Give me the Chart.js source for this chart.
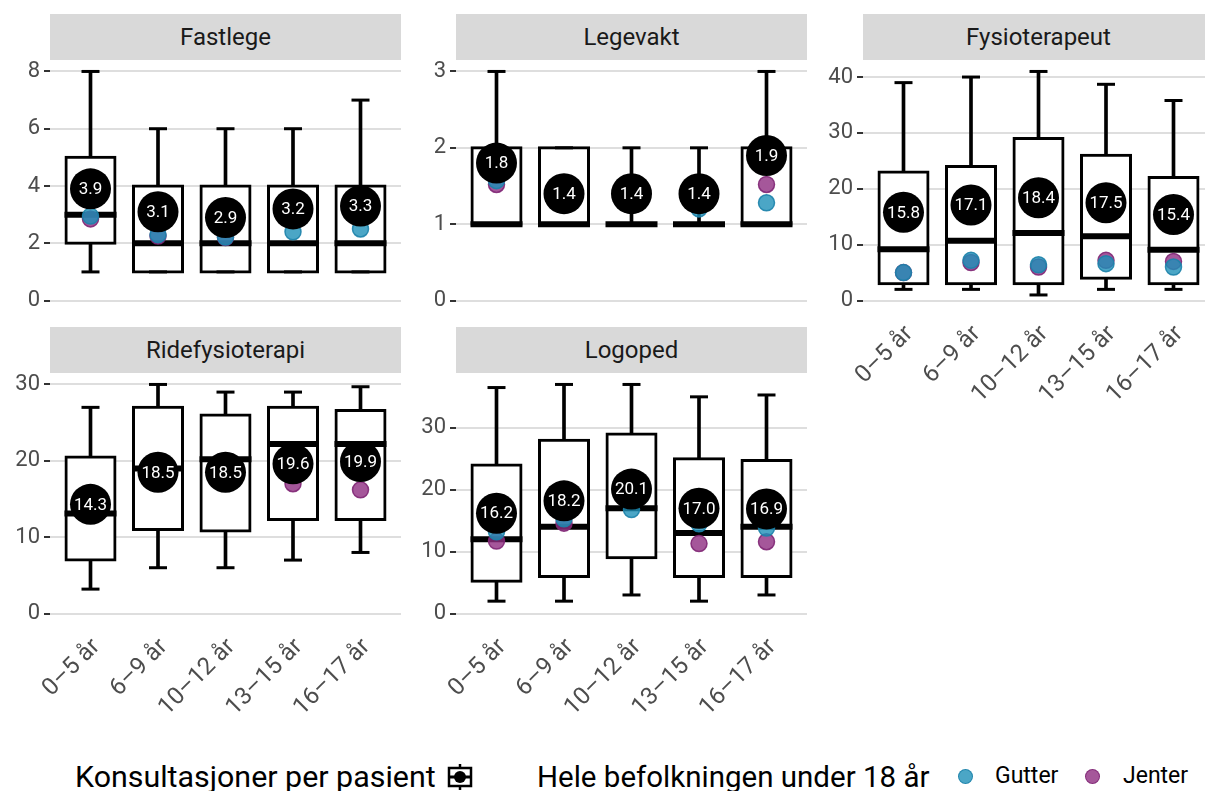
<!DOCTYPE html>
<html>
<head>
<meta charset="utf-8">
<script src="https://cdn.jsdelivr.net/npm/chart.js@4.4.1/dist/chart.umd.min.js"></script>
<style>
    body { margin: 0; width: 1205px; height: 791px; overflow: hidden; background: #fff; font-family: Roboto, sans-serif; position: relative; }
    .strip { position: absolute; width: 351px; height: 46px; line-height: 46px; background: #d9d9d9; color: #1a1a1a; font-size: 24px; text-align: center; }
    canvas { position: absolute; }
    .legend-text { position: absolute; white-space: nowrap; color: #000; }
    .big { font-size: 29.5px; line-height: 30px; top: 762px; }
    .small { font-size: 23px; line-height: 24px; top: 764px; }
    .dot { position: absolute; width: 13px; height: 13px; border-radius: 50%; top: 769px; }
</style>
</head>
<body>

<div class="legend-text big" style="left:75px;font-size:30.4px">Konsultasjoner per pasient</div>
<svg style="position:absolute;left:446px;top:764px" width="28" height="26" viewBox="0 0 28 26">
    <line x1="14" y1="0" x2="14" y2="26" stroke="#000" stroke-width="2.5"/>
    <rect x="3" y="4" width="22" height="18" fill="#fff" stroke="#000" stroke-width="2.5"/>
    <line x1="3" y1="13" x2="25" y2="13" stroke="#000" stroke-width="3"/>
    <circle cx="14" cy="13" r="6" fill="#000"/>
</svg>
<div class="legend-text big" style="left:537px">Hele befolkningen under 18 år</div>
<div class="dot" style="left:958px;background:rgba(30,144,184,0.8);border:1.5px solid rgba(28,130,170,0.9)"></div>
<div class="legend-text small" style="left:995px">Gutter</div>
<div class="dot" style="left:1085px;background:rgba(142,45,129,0.8);border:1.5px solid rgba(128,38,116,0.9)"></div>
<div class="legend-text small" style="left:1123px">Jenter</div>

<script>
const ageGroups = ['0–5 år', '6–9 år', '10–12 år', '13–15 år', '16–17 år'];

// Fastlege
const fastlegeLow = [1, 1, 1, 1, 1];
const fastlegeQ1 = [2, 1, 1, 1, 1];
const fastlegeMedian = [3, 2, 2, 2, 2];
const fastlegeQ3 = [5, 4, 4, 4, 4];
const fastlegeHigh = [8, 6, 6, 6, 7];
const fastlegeMean = [3.9, 3.1, 2.9, 3.2, 3.3];
const fastlegeGutter = [2.95, 2.3, 2.22, 2.4, 2.5];
const fastlegeJenter = [2.85, 2.25, 2.2, 2.9, 3.1];
const fastlegeTicks = [0, 2, 4, 6, 8];

// Legevakt
const legevaktLow = [1, 1, 1, 1, 1];
const legevaktQ1 = [1, 1, 1, 1, 1];
const legevaktMedian = [1, 1, 1, 1, 1];
const legevaktQ3 = [2, 2, 1, 1, 2];
const legevaktHigh = [3, 2, 2, 2, 3];
const legevaktMean = [1.8, 1.4, 1.4, 1.4, 1.9];
const legevaktGutter = [1.57, 1.3, 1.25, 1.2, 1.28];
const legevaktJenter = [1.52, 1.35, 1.3, 1.3, 1.52];
const legevaktTicks = [0, 1, 2, 3];

// Fysioterapeut
const fysioLow = [2, 2, 1, 2, 2];
const fysioQ1 = [3, 3, 3, 4, 3];
const fysioMedian = [9.2, 10.7, 12.1, 11.5, 9.1];
const fysioQ3 = [23, 24, 29, 26, 22];
const fysioHigh = [39, 40, 41, 38.7, 35.8];
const fysioMean = [15.8, 17.1, 18.4, 17.5, 15.4];
const fysioGutter = [5.0, 7.2, 6.4, 6.6, 6.0];
const fysioJenter = [5.0, 6.8, 6.0, 7.2, 7.0];
const fysioTicks = [0, 10, 20, 30, 40];

// Ridefysioterapi
const rideLow = [3.2, 6, 6, 7, 8];
const rideQ1 = [7, 11, 10.8, 12.3, 12.3];
const rideMedian = [13.1, 19, 20.2, 22.2, 22.2];
const rideQ3 = [20.5, 27, 26, 27, 26.6];
const rideHigh = [27, 30, 29, 29, 29.7];
const rideMean = [14.3, 18.5, 18.5, 19.6, 19.9];
const rideGutter = [14.0, 18.2, 18.0, 18.6, 18.8];
const rideJenter = [14.6, 18.8, 18.8, 17.0, 16.2];
const rideTicks = [0, 10, 20, 30];

// Logoped
const logopedLow = [2, 2, 3, 2, 3];
const logopedQ1 = [5.2, 6, 9, 6, 6];
const logopedMedian = [12, 14, 17, 13, 14];
const logopedQ3 = [24, 28, 29, 25, 24.7];
const logopedHigh = [36.5, 37, 37, 35, 35.3];
const logopedMean = [16.2, 18.2, 20.1, 17.0, 16.9];
const logopedGutter = [13.2, 15.3, 16.8, 14.5, 13.8];
const logopedJenter = [11.7, 14.6, 18.5, 11.3, 11.6];
const logopedTicks = [0, 10, 20, 30];

const PLOT_W = 351, PLOT_H = 252, AXIS_W = 50, XLAB_H = 100;

const panels = [
    { title: 'Fastlege', left: 50, top: 60, showX: false, low: fastlegeLow, q1: fastlegeQ1, median: fastlegeMedian, q3: fastlegeQ3, high: fastlegeHigh, mean: fastlegeMean, gutter: fastlegeGutter, jenter: fastlegeJenter, ticks: fastlegeTicks },
    { title: 'Legevakt', left: 456, top: 60, showX: false, low: legevaktLow, q1: legevaktQ1, median: legevaktMedian, q3: legevaktQ3, high: legevaktHigh, mean: legevaktMean, gutter: legevaktGutter, jenter: legevaktJenter, ticks: legevaktTicks },
    { title: 'Fysioterapeut', left: 863, top: 60, showX: true, low: fysioLow, q1: fysioQ1, median: fysioMedian, q3: fysioQ3, high: fysioHigh, mean: fysioMean, gutter: fysioGutter, jenter: fysioJenter, ticks: fysioTicks },
    { title: 'Ridefysioterapi', left: 50, top: 373, showX: true, low: rideLow, q1: rideQ1, median: rideMedian, q3: rideQ3, high: rideHigh, mean: rideMean, gutter: rideGutter, jenter: rideJenter, ticks: rideTicks },
    { title: 'Logoped', left: 456, top: 373, showX: true, low: logopedLow, q1: logopedQ1, median: logopedMedian, q3: logopedQ3, high: logopedHigh, mean: logopedMean, gutter: logopedGutter, jenter: logopedJenter, ticks: logopedTicks }
];

// white value text on top of the mean circles
const meanLabels = {
    id: 'meanLabels',
    afterDatasetsDraw(chart) {
        const idx = chart.data.datasets.findIndex(d => d.label === 'mean');
        const meta = chart.getDatasetMeta(idx);
        const ctx = chart.ctx;
        ctx.save();
        ctx.fillStyle = '#fff';
        ctx.font = '17px Roboto';
        ctx.textAlign = 'center';
        ctx.textBaseline = 'middle';
        meta.data.forEach((pt, i) => {
            ctx.fillText(chart.data.datasets[idx].data[i].y.toFixed(1), pt.x, pt.y + 1);
        });
        ctx.restore();
    }
};

function points(values) {
    return values.map((v, i) => ({ x: i, y: v }));
}

function markers(label, values, style, radius, width, fill, stroke, order) {
    return {
        type: 'line', label: label, data: points(values), showLine: false,
        pointStyle: style, pointRadius: radius, pointHoverRadius: radius,
        pointBorderWidth: width, pointBackgroundColor: fill, pointBorderColor: stroke,
        clip: false, order: order
    };
}

// keep the plot area fixed: no label overflow padding from the axes
function noPadding(s) {
    s.paddingTop = 0;
    s.paddingBottom = 0;
    s.paddingLeft = 0;
    s.paddingRight = 0;
}

function drawPanel(p) {
    const strip = document.createElement('div');
    strip.className = 'strip';
    strip.style.left = p.left + 'px';
    strip.style.top = (p.top - 46) + 'px';
    strip.textContent = p.title;
    document.body.appendChild(strip);

    const canvas = document.createElement('canvas');
    const h = PLOT_H + (p.showX ? XLAB_H : 0);
    canvas.width = AXIS_W + PLOT_W;
    canvas.height = h;
    canvas.style.left = (p.left - AXIS_W) + 'px';
    canvas.style.top = p.top + 'px';
    document.body.appendChild(canvas);

    // ggplot-style 5% expansion around 0..max
    const hi = Math.max(...p.high);
    const pad = hi * 0.05;

    new Chart(canvas.getContext('2d'), {
        type: 'bar',
        data: {
            datasets: [
                {
                    type: 'bar', label: 'whisker',
                    data: p.low.map((v, i) => ({ x: i, y: [v, p.high[i]] })),
                    backgroundColor: '#000', barThickness: 3, grouped: false, order: 8
                },
                {
                    // border straddles the quartile values, like the whiskers' ends
                    type: 'bar', label: 'box',
                    data: p.q1.map((v, i) => ({ x: i, y: [v, p.q3[i]] })),
                    backgroundColor: '#fff', borderColor: '#000', borderWidth: 3,
                    borderSkipped: false, barThickness: 49, inflateAmount: 1.5,
                    grouped: false, order: 7
                },
                markers('capLow', p.low, 'line', 9, 3, '#000', '#000', 6),
                markers('capHigh', p.high, 'line', 9, 3, '#000', '#000', 6),
                markers('median', p.median, 'line', 26, 6, '#000', '#000', 5),
                markers('jenter', p.jenter, 'circle', 8, 1.5, 'rgba(142,45,129,0.8)', 'rgba(128,38,116,0.9)', 4),
                markers('gutter', p.gutter, 'circle', 8, 1.5, 'rgba(30,144,184,0.8)', 'rgba(28,130,170,0.9)', 3),
                markers('mean', p.mean, 'circle', 20.5, 0, '#000', '#000', 1)
            ]
        },
        options: {
            responsive: false,
            animation: false,
            events: [],
            layout: { padding: 0, autoPadding: false },
            plugins: { legend: { display: false }, tooltip: { enabled: false } },
            scales: {
                x: {
                    type: 'linear', min: -0.6, max: 4.6, offset: false,
                    display: p.showX,
                    grid: { display: false, drawTicks: false },
                    border: { display: false },
                    afterBuildTicks: s => { s.ticks = ageGroups.map((_, i) => ({ value: i })); },
                    afterFit: s => { noPadding(s); if (p.showX) s.height = XLAB_H; },
                    ticks: {
                        minRotation: 45, maxRotation: 45, padding: 8, labelOffset: 6,
                        color: '#4d4d4d', font: { family: 'Roboto', size: 24 },
                        callback: v => ageGroups[v]
                    }
                },
                y: {
                    type: 'linear', min: -pad, max: hi + pad,
                    afterBuildTicks: s => { s.ticks = p.ticks.map(v => ({ value: v })); },
                    afterFit: s => { noPadding(s); s.width = AXIS_W; },
                    grid: { color: '#dedede', lineWidth: 2, tickLength: 6, tickColor: '#333', tickWidth: 2 },
                    border: { display: false },
                    ticks: { padding: 4, color: '#4d4d4d', font: { family: 'Roboto', size: 22 } }
                }
            }
        },
        plugins: [meanLabels]
    });
}

panels.forEach(drawPanel);
</script>
</body>
</html>
